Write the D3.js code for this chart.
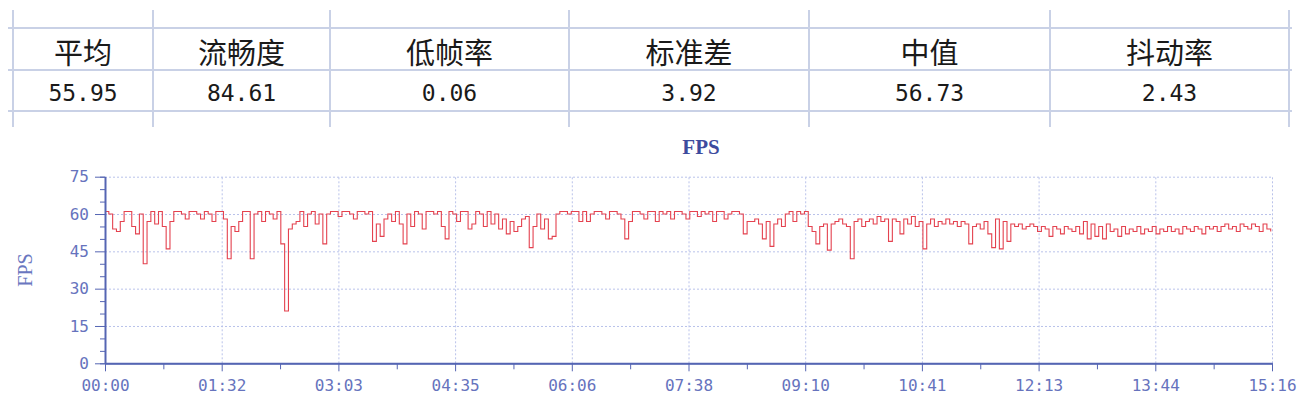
<!DOCTYPE html>
<html>
<head>
<meta charset="utf-8">
<script src="https://cdn.jsdelivr.net/npm/d3@7/dist/d3.min.js"></script>
<style>
  body { margin: 0; background: #fff; }
  svg { display: block; }
  .tbl-line { stroke: #c9d1e6; stroke-width: 2; }
  .hdr { font-family: "Noto Sans CJK SC", sans-serif; font-size: 29px; fill: #1a1a1a; text-anchor: middle; }
  .val { font-family: "DejaVu Sans Mono", monospace; font-size: 23px; fill: #1a1a1a; text-anchor: middle; }
  .grid line { stroke: #b9c2ea; stroke-dasharray: 2,2; }
  .grid path { display: none; }
  .axis path, .axis line { stroke: #5565b3; }
  .axis text { font-family: "DejaVu Sans Mono", monospace; font-size: 16px; fill: #6673bd; }
  .line { fill: none; stroke: #e4424f; stroke-width: 1.1; }
</style>
</head>
<body>
<script>
// ==================== Data ============================
// Summary table
const statNames  = ['平均', '流畅度', '低帧率', '标准差', '中值', '抖动率'];
const statValues = ['55.95', '84.61', '0.06', '3.92', '56.73', '2.43'];

// FPS samples, one every 3 seconds
const sampleStep = 3;
const fps = [
  61,60,54,53,57,61,61,55,52,60,
  40,57,61,56,61,55,46,57,61,61,
  60,58,61,61,60,58,61,60,57,61,
  61,58,42,55,53,57,61,61,42,60,
  61,57,61,60,58,61,48,21,54,56,
  57,61,55,60,61,56,60,48,60,61,
  61,59,61,61,60,58,61,61,60,61,
  49,56,51,58,60,57,61,56,48,60,
  55,61,60,54,61,61,60,61,55,50,
  61,60,57,61,61,54,56,61,60,55,
  61,56,60,54,58,52,57,53,55,58,
  59,46.5,55,60,54,58,50,51,60,61,
  61,60,61,61,57,61,57,60,61,61,
  60,58,61,61,60,58,50,57,61,61,
  60,58,61,61,57,61,60,61,58,61,
  61,60,58,61,61,59,61,60,61,57,
  61,61,58,60,61,61,60,52,57,57,
  58,56,50,57,47,56,58,55,60,61,
  57,61,60,61,55,53,48,55,56,45.5,
  56,57,58,56,55,42,57,58,55,57,
  58,56,59,57,58,49,58,57,52,58,
  56,59,55,57,46,56,58,55,57,56,
  58,56,57,55,57,56,48,55,56,54,
  57,52,46.5,58,46,57,49,56,55,56,
  54,55,56,55,53,55,54,51,55,54,
  52,55,54,53,55,52,57,50,56,51,
  55,50,56,53,54,51,55,52,54,53,
  55,52,54,53,55,52,54,53,55,53,
  54,52,55,54,53,55,54,52,55,54,
  55,53,55,56,54,55,53,56,55,54,
  56,55,53,56,54,53
];

// Axis ticks
const totalSeconds = 916;
const xTickLabels = ['00:00','01:32','03:03','04:35','06:06','07:38','09:10','10:41','12:13','13:44','15:16'];
const yTicks = [0, 15, 30, 45, 60, 75];

// ==================== Set up ============================
const svg = d3.select('body')
  .append('svg')
    .attr('width', 1300)
    .attr('height', 414);

// Table grid
const colEdges = [13, 153, 330, 569, 809, 1050, 1289];
const rowEdges = [28, 70, 111];

rowEdges.forEach((y) => {
  svg.append('line').attr('class', 'tbl-line')
    .attr('x1', 8).attr('x2', 1292).attr('y1', y).attr('y2', y);
});
colEdges.forEach((x) => {
  svg.append('line').attr('class', 'tbl-line')
    .attr('x1', x).attr('x2', x).attr('y1', 10).attr('y2', 127);
});

const colCenter = (i) => (colEdges[i] + colEdges[i + 1]) / 2;

svg.selectAll('.hdr')
  .data(statNames)
  .enter().append('text')
    .attr('class', 'hdr')
    .attr('x', (d, i) => colCenter(i))
    .attr('y', 64)
    .text((d) => d);

svg.selectAll('.val')
  .data(statValues)
  .enter().append('text')
    .attr('class', 'val')
    .attr('x', (d, i) => colCenter(i))
    .attr('y', 101)
    .text((d) => d);

// ==================== Chart ============================
const plot = {left: 105, right: 1272, top: 176.7, bottom: 363.3};

const x = d3.scaleLinear().domain([0, totalSeconds]).range([plot.left, plot.right]);
const y = d3.scaleLinear().domain([0, 75]).range([plot.bottom, plot.top]);

const xMajor = d3.range(xTickLabels.length).map((i) => i * totalSeconds / (xTickLabels.length - 1));
const xMinor = xMajor.slice(0, -1).map((d) => d + totalSeconds / 20);
const yMinor = d3.range(0, 76, 5).filter((d) => d % 15 !== 0);

// Gridlines
svg.append('g')
    .attr('class', 'grid')
    .attr('transform', `translate(0, ${plot.bottom})`)
    .call(d3.axisBottom(x).tickValues(xMajor.slice(1)).tickSize(-(plot.bottom - plot.top)).tickFormat(''));

svg.append('g')
    .attr('class', 'grid')
    .attr('transform', `translate(${plot.left}, 0)`)
    .call(d3.axisLeft(y).tickValues(yTicks.slice(1)).tickSize(-(plot.right - plot.left)).tickFormat(''));

// Title
svg.append('text')
    .attr('x', 701)
    .attr('y', 154)
    .attr('text-anchor', 'middle')
    .style('font-family', '"Liberation Serif", serif')
    .style('font-size', '21px')
    .style('font-weight', 'bold')
    .style('fill', '#3d4b9e')
    .text('FPS');

// Y label
svg.append('text')
    .attr('transform', 'translate(32, 270) rotate(-90)')
    .attr('text-anchor', 'middle')
    .style('font-family', '"Liberation Serif", serif')
    .style('font-size', '20px')
    .style('fill', '#6a77c0')
    .text('FPS');

// The FPS line (stepped, like the original)
const valueline = d3.line()
    .curve(d3.curveStepAfter)
    .x((d, i) => x(i * sampleStep))
    .y((d) => y(d));

svg.append('path')
    .datum(fps)
    .attr('class', 'line')
    .attr('d', valueline);

// Minor ticks
svg.append('g')
    .attr('class', 'axis')
    .attr('transform', `translate(0, ${plot.bottom})`)
    .call(d3.axisBottom(x).tickValues(xMinor).tickSize(6).tickFormat(''));

svg.append('g')
    .attr('class', 'axis')
    .attr('transform', `translate(${plot.left}, 0)`)
    .call(d3.axisLeft(y).tickValues(yMinor).tickSize(5).tickFormat(''));

// X axis
svg.append('g')
    .attr('class', 'axis')
    .attr('transform', `translate(0, ${plot.bottom})`)
    .call(d3.axisBottom(x)
      .tickValues(xMajor)
      .tickSize(8)
      .tickSizeOuter(0)
      .tickPadding(8)
      .tickFormat((d, i) => xTickLabels[i]))
    .select('.domain').attr('stroke-width', 2);

// Y axis
svg.append('g')
    .attr('class', 'axis')
    .attr('transform', `translate(${plot.left}, 0)`)
    .call(d3.axisLeft(y)
      .tickValues(yTicks)
      .tickSize(10)
      .tickSizeOuter(0)
      .tickPadding(6))
    .select('.domain').attr('stroke-width', 2);
</script>
</body>
</html>
